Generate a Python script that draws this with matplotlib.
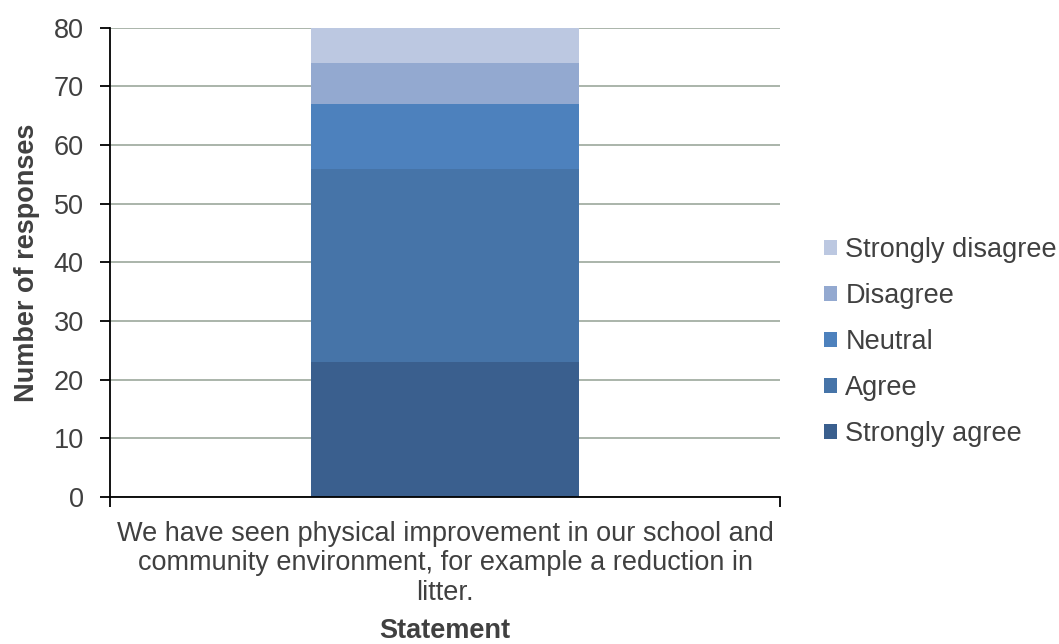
import numpy as np
import matplotlib.pyplot as plt

plt.rcParams['font.family'] = ['Liberation Sans', 'DejaVu Sans']

# Survey responses for the single statement
statement = ("We have seen physical improvement in our school and\n"
             "community environment, for example a reduction in\n"
             "litter.")
levels = ['Strongly agree', 'Agree', 'Neutral', 'Disagree', 'Strongly disagree']
counts = [23, 33, 11, 7, 6]
colors = ['#3a5f8e', '#4674a8', '#4d81bd', '#93a9d0', '#bcc8e1']

fig = plt.figure(figsize=(10.59, 6.44), dpi=100)
ax = fig.add_axes([0.104, 0.228, 0.633, 0.729])

bottom = 0
for lvl, n, c in zip(levels, counts, colors):
    ax.bar(0, n, width=0.4, bottom=bottom, color=c, label=lvl, zorder=2)
    bottom += n

ax.set_xlim(-0.5, 0.5)
ax.set_ylim(0, 80)
ax.set_yticks(np.arange(0, 81, 10))
ax.yaxis.grid(True, color='#a4afa4', linewidth=1.3, zorder=0)
ax.set_axisbelow(True)

for side in ['top', 'right']:
    ax.spines[side].set_visible(False)
ax.spines['left'].set_linewidth(1.3)
ax.spines['bottom'].set_linewidth(1.3)

ax.tick_params(axis='y', direction='out', length=7, width=1.3,
               labelsize=19.5, labelcolor='#404040', pad=12)
ax.set_xticks([-0.5, 0.5], minor=True)
ax.tick_params(axis='x', which='minor', direction='out', length=7, width=1.3)
ax.set_xticks([0])
ax.set_xticklabels([statement], fontsize=19.5, color='#404040', linespacing=1.17)
ax.tick_params(axis='x', which='major', length=0, pad=17)

ax.set_ylabel('Number of responses', fontsize=19.5, fontweight='bold',
              color='#404040', labelpad=10)
ax.set_xlabel('Statement', fontsize=19.5, fontweight='bold', color='#404040',
              labelpad=9)

handles, labels = ax.get_legend_handles_labels()
leg = fig.legend(handles[::-1], labels[::-1], loc='center left',
                 bbox_to_anchor=(0.765, 0.469), frameon=False, fontsize=19.5,
                 handlelength=0.5, handleheight=0.5, handletextpad=0.3,
                 labelspacing=0.74, borderpad=0)
for t in leg.get_texts():
    t.set_color('#404040')

fig.savefig('out.png', dpi=100)
